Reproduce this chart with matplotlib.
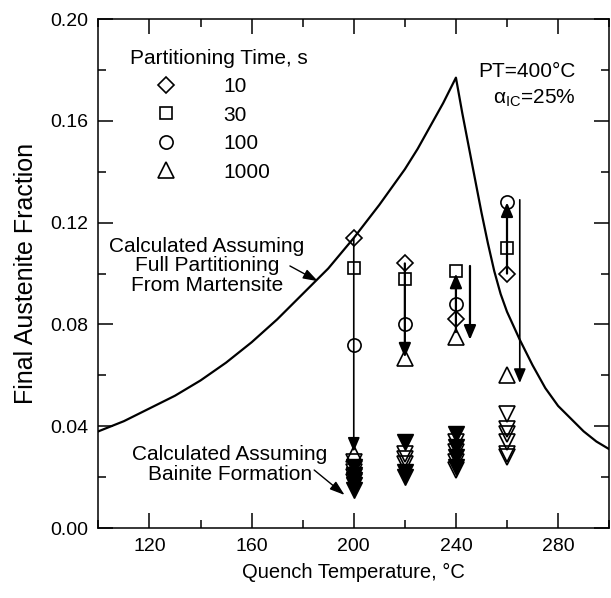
import matplotlib
matplotlib.use('Agg')
import matplotlib.pyplot as plt
from matplotlib.lines import Line2D
from matplotlib.ticker import MultipleLocator

plt.rcParams['font.family'] = ['Liberation Sans', 'DejaVu Sans']
plt.rcParams['mathtext.fontset'] = 'custom'
plt.rcParams['mathtext.rm'] = 'Liberation Sans'
plt.rcParams['mathtext.it'] = 'Liberation Sans'

# calculated curve, full partitioning from martensite
curve_t = [100, 105, 110, 115, 120, 125, 130, 135, 140, 145, 150, 155, 160, 165, 170, 175,
           180, 185, 190, 195, 200, 205, 210, 215, 220, 225, 230, 235, 240,
           242.5, 245, 247.5, 250, 252.5, 255, 257.5, 260, 265, 270, 275, 280, 285, 290, 295, 300]
curve_f = [0.038, 0.040, 0.042, 0.0445, 0.047, 0.0495, 0.052, 0.055, 0.058, 0.0615, 0.065,
           0.069, 0.073, 0.0775, 0.082, 0.087, 0.092, 0.097, 0.102, 0.108, 0.114, 0.1205,
           0.127, 0.134, 0.141, 0.149, 0.158, 0.167, 0.177,
           0.163, 0.150, 0.137, 0.124, 0.112, 0.101, 0.092, 0.085, 0.074, 0.064, 0.055,
           0.048, 0.043, 0.038, 0.034, 0.031]

# measured final austenite fraction
quench_t = [200, 220, 240, 260]
f_10s = [0.114, 0.104, 0.082, 0.100]
f_30s = [0.102, 0.098, 0.101, 0.110]
f_100s = [0.072, 0.080, 0.088, 0.128]
f_1000s = [0.029, 0.067, 0.075, 0.060]

# calculated assuming bainite formation
bain_fill_t = [200, 200, 200, 200, 200, 220, 220, 220, 240, 240, 240, 240]
bain_fill_f = [0.024, 0.021, 0.019, 0.017, 0.015, 0.034, 0.022, 0.020,
               0.037, 0.032, 0.028, 0.024]
bain_open_t = [200, 200, 200, 200, 220, 220, 220, 240, 240, 240, 240,
               260, 260, 260, 260, 260, 260]
bain_open_f = [0.026, 0.022, 0.020, 0.018, 0.029, 0.027, 0.025, 0.034, 0.030, 0.026, 0.023,
               0.045, 0.039, 0.037, 0.034, 0.029, 0.028]

# trend arrows
arrow_t = [200, 220, 240, 245.5, 260, 265]
arrow_from = [0.114, 0.104, 0.077, 0.103, 0.100, 0.129]
arrow_to = [0.030, 0.067, 0.100, 0.074, 0.128, 0.057]
arrow_lw = [1.2, 1.6, 1.6, 1.6, 1.6, 1.2]

fig = plt.figure(figsize=(6.11, 5.98), dpi=100)
ax = fig.add_axes([0.161, 0.117, 0.836, 0.851])

ax.plot(curve_t, curve_f, color='black', linewidth=1.6)

for t, a, b, w in zip(arrow_t, arrow_from, arrow_to, arrow_lw):
    ax.annotate('', xy=(t, b), xytext=(t, a),
                arrowprops=dict(arrowstyle='-|>,head_length=0.85,head_width=0.36',
                                color='black', lw=w, shrinkA=0, shrinkB=0,
                                mutation_scale=10))

mk = dict(linestyle='none', color='black', markerfacecolor='none', markeredgewidth=1.2)
sizes = {'D': 8.5, 's': 9, 'o': 9.5, '^': 12}
ax.plot(quench_t, f_10s, marker='D', markersize=sizes['D'], **mk)
ax.plot(quench_t, f_30s, marker='s', markersize=sizes['s'], **mk)
ax.plot(quench_t, f_100s, marker='o', markersize=sizes['o'], **mk)
ax.plot(quench_t, f_1000s, marker='^', markersize=sizes['^'], **mk)

ax.plot(bain_fill_t, bain_fill_f, linestyle='none', marker='v', markersize=12,
        color='black', markeredgewidth=1.0)
ax.plot(bain_open_t, bain_open_f, marker='v', markersize=12, **mk)

ax.set_xlim(100, 300)
ax.set_ylim(0, 0.20)
ax.set_xticks([120, 160, 200, 240, 280])
ax.xaxis.set_minor_locator(MultipleLocator(20))
ax.yaxis.set_major_locator(MultipleLocator(0.04))
ax.yaxis.set_minor_locator(MultipleLocator(0.02))
ax.yaxis.set_major_formatter(matplotlib.ticker.FormatStrFormatter('%.2f'))
ax.tick_params(which='both', direction='in', top=True, right=True, width=1.1,
               labelsize=14)
ax.tick_params(which='major', length=11, pad=7)
ax.tick_params(which='minor', length=5.5)
for s in ax.spines.values():
    s.set_linewidth(1.1)

ax.set_xlabel('Quench Temperature, °C', fontsize=14.5, labelpad=6)
ax.set_ylabel('Final Austenite Fraction', fontsize=18, labelpad=9)

handles = [Line2D([], [], marker=m, markersize=sizes[m], **mk) for m in ['D', 's', 'o', '^']]
leg = ax.legend(handles, ['10', '30', '100', '1000'], title='Partitioning Time, s',
                loc='upper left', bbox_to_anchor=(130 / 611, 1 - 49 / 598),
                bbox_transform=fig.transFigure, frameon=False, fontsize=15,
                title_fontsize=15, alignment='left', borderpad=0, borderaxespad=0,
                handlelength=3.5, handletextpad=1.0, labelspacing=0.45)

ax.text(287, 0.1796, 'PT=400°C', fontsize=15, ha='right', va='center')
ax.text(287, 0.169, r'$\alpha_{\mathregular{IC}}$=25%', fontsize=15, ha='right', va='center')

head = '-|>,head_length=0.9,head_width=0.3'
ax.text(142.5, 0.103, 'Calculated Assuming\nFull Partitioning\nFrom Martensite',
        fontsize=15, ha='center', va='center', multialignment='center', linespacing=1.05)
ax.annotate('', xy=(186, 0.097), xytext=(175, 0.103),
            arrowprops=dict(arrowstyle=head, color='black', lw=1.0, shrinkA=0, shrinkB=0,
                            mutation_scale=10))
ax.text(151.5, 0.0251, 'Calculated Assuming\nBainite Formation', fontsize=15,
        ha='center', va='center', multialignment='center', linespacing=1.05)
ax.annotate('', xy=(196.4, 0.013), xytext=(184.5, 0.0228),
            arrowprops=dict(arrowstyle=head, color='black', lw=1.0, shrinkA=0, shrinkB=0,
                            mutation_scale=10))

fig.savefig('out.png', dpi=100)
